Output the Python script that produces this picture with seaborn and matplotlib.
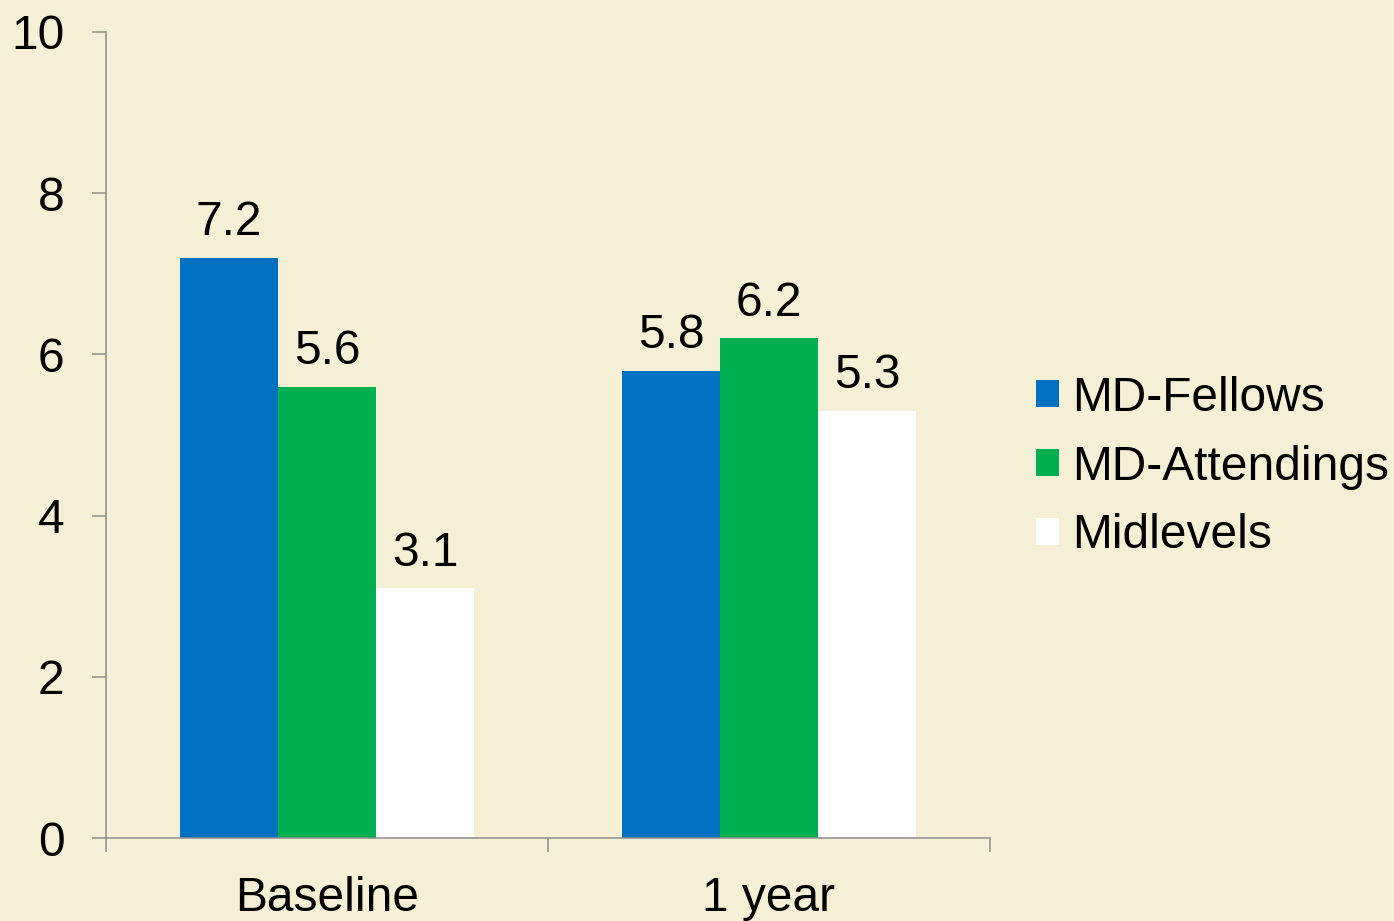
import pandas as pd
import matplotlib.pyplot as plt
import seaborn as sns

periods = ['Baseline', '1 year']
groups = ['MD-Fellows', 'MD-Attendings', 'Midlevels']
fellows = [7.2, 5.8]
attendings = [5.6, 6.2]
midlevels = [3.1, 5.3]
colors = ['#0070C0', '#00B050', '#FFFFFF']
bg = '#F5F0D5'

df = pd.DataFrame({
    'period': periods * 3,
    'group': [g for g in groups for _ in periods],
    'value': fellows + attendings + midlevels,
})

sns.set_style('ticks')
plt.rcParams['font.family'] = ['Liberation Sans', 'DejaVu Sans']
plt.rcParams['text.color'] = 'black'
plt.rcParams['xtick.labelcolor'] = 'black'
plt.rcParams['ytick.labelcolor'] = 'black'

fig = plt.figure(figsize=(13.94, 9.21), dpi=100, facecolor=bg)
ax = fig.add_axes([106/1394, 83/921, 884/1394, 806/921])
ax.set_facecolor(bg)

sns.barplot(data=df, x='period', y='value', hue='group', order=periods,
            hue_order=groups, palette=colors, width=0.665, saturation=1,
            linewidth=0, ax=ax)

for cont in ax.containers:
    ax.bar_label(cont, fmt='%.1f', padding=9, fontsize=34.5, color='black')

ax.set_xlim(-0.5, 1.5)
ax.set_ylim(0, 10)
ax.set_yticks([0, 2, 4, 6, 8, 10])
ax.set_xticks([-0.5, 0.5, 1.5])
ax.set_xticklabels(['', '', ''])
ax.set_xticks([0, 1], minor=True)
ax.set_xticklabels(periods, minor=True)
ax.tick_params(axis='x', which='major', length=10, width=1.1, color='#8C8C8C')
ax.tick_params(axis='x', which='minor', length=0, pad=27, labelsize=34.5, labelcolor='black')
ax.tick_params(axis='y', length=10, width=1.1, color='#8C8C8C', pad=20, labelsize=34.5, labelcolor='black')
ax.set_xlabel('')
ax.set_ylabel('')

for s in ['top', 'right']:
    ax.spines[s].set_visible(False)
for s in ['left', 'bottom']:
    ax.spines[s].set_color('#8C8C8C')
    ax.spines[s].set_linewidth(1.1)

handles, labels = ax.get_legend_handles_labels()
ax.legend_.remove()
fig.legend(handles, labels, loc='center left',
           bbox_to_anchor=(1036/1394, 1 - 467/921), frameon=False,
           fontsize=34.5, handlelength=0.47, handleheight=0.47,
           handletextpad=0.28, labelspacing=0.5, borderpad=0, borderaxespad=0,
           labelcolor='black')

fig.savefig('out.png', dpi=100, facecolor=bg)
